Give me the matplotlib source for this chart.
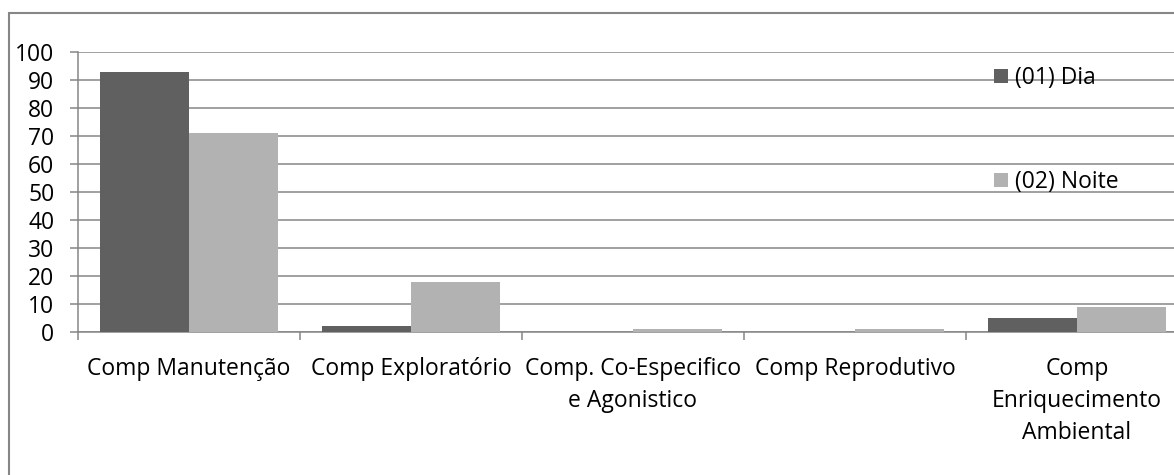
import matplotlib.pyplot as plt
import matplotlib.patches as mpatches
import numpy as np

categories = ['Comp Manutenção', 'Comp Exploratório', 'Comp. Co-Especifico\ne Agonistico',
              'Comp Reprodutivo', 'Comp\nEnriquecimento\nAmbiental']
dia = [93, 2, 0, 0, 5]
noite = [71, 18, 1, 1, 9]
series_names = ['(01) Dia', '(02) Noite']
yticks = [0, 10, 20, 30, 40, 50, 60, 70, 80, 90, 100]

plt.rcParams['font.family'] = ['Open Sans', 'DejaVu Sans']

W, H = 1174, 475
fig = plt.figure(figsize=(W / 100, H / 100), dpi=100)

# outer chart border (cropped on right and bottom in the original)
fig.patches.append(mpatches.Rectangle((8.5 / W, -0.1), 1.2, 1 - 13 / H + 0.1,
                                      transform=fig.transFigure, fill=False,
                                      edgecolor='#868686', linewidth=1.5))

ax = fig.add_axes([78 / W, 1 - 332 / H, (1188 - 78) / W, (332 - 52) / H])

x = np.arange(len(categories))
w = 0.4
ax.bar(x - w / 2, dia, w, color='#606060', label=series_names[0], zorder=3)
ax.bar(x + w / 2, noite, w, color='#b2b2b2', label=series_names[1], zorder=3)

ax.set_xlim(-0.5, len(categories) - 0.5)
ax.set_ylim(0, 100)
ax.set_yticks(yticks)
ax.yaxis.grid(True, color='#868686', linewidth=1.1, zorder=0)
ax.set_axisbelow(True)

for s in ['top', 'right']:
    ax.spines[s].set_visible(False)
for s in ['left', 'bottom']:
    ax.spines[s].set_color('#868686')
    ax.spines[s].set_linewidth(1.1)

fs = 16.5
ax.tick_params(axis='y', length=6, width=1.1, color='#868686', pad=11, labelsize=fs)
ax.set_xticks(x)
ax.set_xticklabels(categories, fontsize=fs, linespacing=1.45, va='top')
ax.set_xticks(np.arange(len(categories) + 1) - 0.5, minor=True)
ax.tick_params(axis='x', which='major', length=0, pad=18)
ax.tick_params(axis='x', which='minor', length=6, width=1.1, color='#868686')

fig.legend(loc='upper left', bbox_to_anchor=(994 / W, 1 - 66 / H), frameon=False,
           fontsize=fs, handlelength=0.6, handleheight=0.6, handletextpad=0.3,
           labelspacing=3.5, borderpad=0, borderaxespad=0)

fig.savefig('out.png', dpi=100)
